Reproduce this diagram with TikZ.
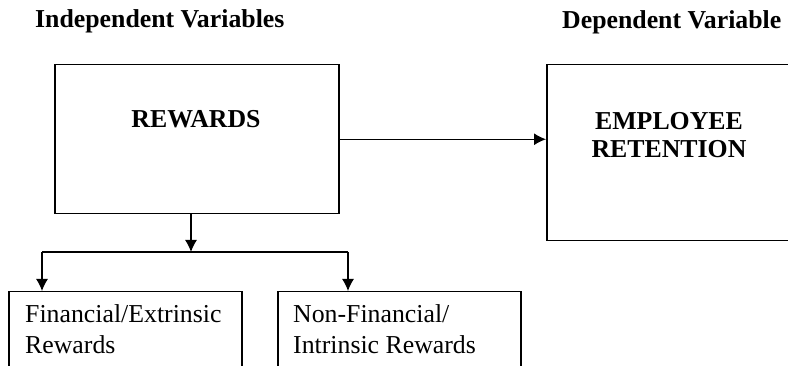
\documentclass[tikz,border=0pt]{standalone}
\usepackage{fontspec}
\setmainfont{Liberation Serif}
\usetikzlibrary{arrows.meta}
\begin{document}
\begin{tikzpicture}[x=1pt,y=-1pt,
  box/.style={draw,line width=1.5pt,rectangle,inner sep=0pt,anchor=north west},
  conn/.style={line width=1.2pt,-{Latex[length=12pt,width=12pt]}},
  plain/.style={line width=1.2pt},
  title/.style={inner sep=0pt,anchor=base west,font=\fontsize{25.8}{31}\selectfont\bfseries},
  btext/.style={inner sep=0pt,anchor=base,font=\fontsize{25.8}{31}\selectfont\bfseries},
  ltext/.style={inner sep=0pt,anchor=base west,font=\fontsize{25.8}{31}\selectfont}]
\useasboundingbox (0,0) rectangle (788,366);
\clip (0,0) rectangle (788,366);
\fill[white] (0,0) rectangle (788,366);
% titles
\node[title] (indep) at (35,28) {Independent Variables};
\node[title] (dep) at (562,29) {Dependent Variable};
% boxes
\node[box,minimum width=284pt,minimum height=149pt] (rewards) at (54,64) {};
\node[box,minimum width=246pt,minimum height=176pt] (employee) at (546,64) {};
\node[box,minimum width=233pt,minimum height=110pt] (fin) at (8,291) {};
\node[box,minimum width=243pt,minimum height=110pt] (nonfin) at (277,291) {};
% texts
\node[btext] (rewardsT) at (196,128) {REWARDS};
\node[btext] (empT1) at (669,130) {EMPLOYEE};
\node[btext] (empT2) at (669,158) {RETENTION};
\node[ltext] (finT1) at (25,323) {Financial/Extrinsic};
\node[ltext] (finT2) at (25,354) {Rewards};
\node[ltext] (nonT1) at (293,323) {Non-Financial/};
\node[ltext] (nonT2) at (293,354) {Intrinsic Rewards};
% connectors
\coordinate (split) at (191,252);
\coordinate (lft) at (42,252);
\coordinate (rgt) at (348,252);
\draw[conn] (rewards.east) -- (rewards.east -| employee.west);
\draw[conn] (split |- rewards.south) -- (split);
\draw[plain] (lft) -- (rgt);
\draw[conn] (lft) -- (lft |- fin.north);
\draw[conn] (rgt) -- (rgt |- nonfin.north);
\end{tikzpicture}
\end{document}
